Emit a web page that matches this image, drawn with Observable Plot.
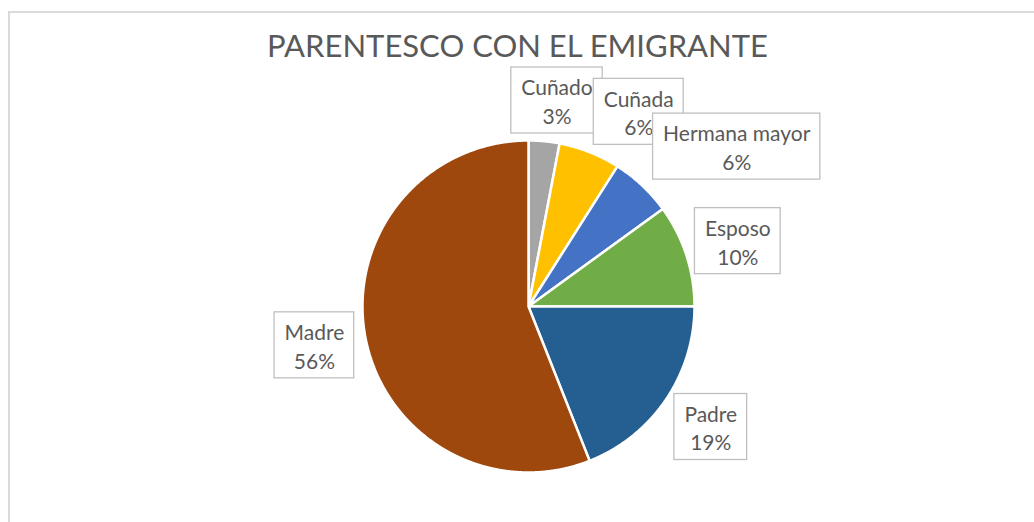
<!DOCTYPE html>
<html><head><meta charset="utf-8">
<script src="https://cdn.jsdelivr.net/npm/d3@7"></script>
<script src="https://cdn.jsdelivr.net/npm/@observablehq/plot@0.6"></script>
<style>
html,body{margin:0;padding:0;background:#fff;overflow:hidden;width:1034px;height:522px}
#frame{position:absolute;left:8px;top:11px;width:1100px;height:600px;border:2px solid #d9d9d9;box-sizing:border-box;pointer-events:none;z-index:2}
#chart{position:absolute;left:0;top:0;z-index:1}
</style></head><body>
<div id="chart"></div><div id="frame"></div>
<script>
// ---- data ----
const categories = ["Cuñado", "Cuñada", "Hermana mayor", "Esposo", "Padre", "Madre"];
const percents = [3, 6, 6, 10, 19, 56];
const colors = ["#A5A5A5", "#FFC000", "#4472C4", "#70AD47", "#255E91", "#9E480E"];
const title = "PARENTESCO CON EL EMIGRANTE";

// ---- layout ----
const W = 1034, H = 522, CX = 528, CY = 306, R = 166;
const labelRadius = 1.313;
const nudges = [[8, 11], [30, 8], [59, -1], [2, 2], [2, -2], [0, -2]]; // px offsets for overlapping labels
const FONT = "Lato, 'Open Sans', sans-serif";
const labelSize = 21, boxH = 66, pad = 10;

const data = categories.map((name, i) => ({name, value: percents[i]}));
const arcs = d3.pie().sort(null).value(d => d.value)(data);

// slice polygons in unit coordinates (y up)
const polyPts = [];
arcs.forEach(a => {
  const n = Math.max(2, Math.ceil((a.endAngle - a.startAngle) / 0.005));
  polyPts.push({name: a.data.name, x: 0, y: 0});
  for (let k = 0; k <= n; k++) {
    const t = a.startAngle + (a.endAngle - a.startAngle) * k / n;
    polyPts.push({name: a.data.name, x: Math.sin(t), y: Math.cos(t)});
  }
});

const ctx = document.createElement("canvas").getContext("2d");
ctx.font = `${labelSize}px ${FONT}`;
const labels = arcs.map((a, i) => {
  const mid = (a.startAngle + a.endAngle) / 2;
  const x = labelRadius * Math.sin(mid) + nudges[i][0] / R;
  const y = labelRadius * Math.cos(mid) - nudges[i][1] / R;
  const w = Math.max(ctx.measureText(a.data.name).width, ctx.measureText(a.data.value + "%").width) + 2 * pad;
  return {
    name: a.data.name, text: `${a.data.name}\n${a.data.value}%`, x, y,
    x1: x - w / 2 / R, x2: x + w / 2 / R, y1: y - boxH / 2 / R, y2: y + boxH / 2 / R
  };
});

const labelMarks = labels.flatMap(l => [
  Plot.rect([l], {x1: "x1", x2: "x2", y1: "y1", y2: "y2", fill: "white", stroke: "#bfbfbf", strokeWidth: 1.3}),
  Plot.text([l], {x: "x", y: "y", text: "text", fill: "#595959", fontSize: labelSize, lineHeight: 1.36})
]);

const chart = Plot.plot({
  width: W, height: H, margin: 0,
  x: {domain: [-CX / R, (W - CX) / R], axis: null},
  y: {domain: [-(H - CY) / R, CY / R], axis: null},
  color: {domain: categories, range: colors},
  style: {fontFamily: FONT, background: "white"},
  marks: [
    Plot.line(polyPts, {x: "x", y: "y", z: "name", fill: "name", stroke: "white", strokeWidth: 2.5, curve: "linear-closed", strokeLinejoin: "round"}),
    ...labelMarks,
    Plot.text([title], {frameAnchor: "top", dy: 47, text: d => d, fontSize: 31, fill: "#595959", lineAnchor: "middle", fontWeight: 400})
  ]
});
document.getElementById("chart").appendChild(chart);
</script>
</body></html>
